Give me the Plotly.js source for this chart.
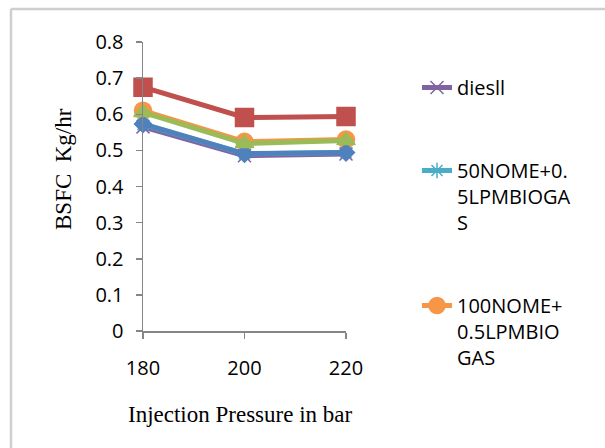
<!DOCTYPE html>
<html>
<head>
<meta charset="utf-8">
<script src="https://cdn.plot.ly/plotly-3.0.1.min.js"></script>
<style>html,body{margin:0;padding:0;background:#fff;}#chart{width:605px;height:448px;}</style>
</head>
<body>
<div id="chart"></div>
<script>
const pressure = [180, 200, 220];
const seriesA = [0.573, 0.491, 0.494];
const seriesB = [0.675, 0.591, 0.594];
const seriesC = [0.605, 0.519, 0.527];
const diesll = [0.565, 0.485, 0.490];
const nome50 = [0.572, 0.490, 0.494];
const nome100 = [0.610, 0.524, 0.530];
const names = ["diesll", "50NOME+0.<br>5LPMBIOGA<br>S", "100NOME+<br>0.5LPMBIO<br>GAS"];
const yTicks = [0, 0.1, 0.2, 0.3, 0.4, 0.5, 0.6, 0.7, 0.8];
const yTickText = ["0", "0.1", "0.2", "0.3", "0.4", "0.5", "0.6", "0.7", "0.8"];

function tr(y, name, color, symbol, size, show, group) {
  return {
    x: pressure, y: y, name: name, type: 'scatter', mode: 'lines+markers',
    line: {color: color, width: 5},
    marker: {color: color, symbol: symbol, size: size, line: {color: color, width: 1.5}},
    showlegend: show, legendgroup: group, cliponaxis: false
  };
}
const data = [
  tr(diesll, names[0], '#8064A2', 'x-thin-open', 13, true, 'g1'),
  tr(nome50, names[1], '#4BACC6', 'asterisk-open', 13, true, 'g2'),
  tr(nome100, names[2], '#F79646', 'circle', 17, true, 'g3'),
  tr(seriesA, 'Series 1', '#4F81BD', 'diamond', 13, false, 'g4'),
  tr(seriesB, 'Series 2', '#C0504D', 'square', 18, false, 'g5'),
  tr(seriesC, 'Series 3', '#9BBB59', 'triangle-up', 16, false, 'g6')
];

const L = 143, T = 42, W = 203, H = 289;
const px = v => (v - L) / W;
const py = v => (T + H - v) / H;

const layout = {
  width: 605, height: 448,
  margin: {l: L, r: 605 - L - W, t: T, b: 448 - T - H},
  paper_bgcolor: '#fff', plot_bgcolor: '#fff',
  font: {family: 'Open Sans, Liberation Sans, sans-serif', color: '#000'},
  xaxis: {
    range: [180, 220], tickvals: pressure, ticktext: pressure.map(String),
    showgrid: false, zeroline: false, showline: true, linecolor: '#868686', linewidth: 1.5,
    ticks: 'outside', ticklen: 6, tickcolor: '#868686', tickwidth: 1.5,
    tickfont: {size: 20, family: 'Open Sans, sans-serif', color: '#000'},
    ticklabelstandoff: 12
  },
  yaxis: {
    range: [0, 0.8], tickvals: yTicks, ticktext: yTickText,
    showgrid: false, zeroline: false, showline: true, linecolor: '#868686', linewidth: 1.5,
    ticks: 'outside', ticklen: 6, tickcolor: '#868686', tickwidth: 1.5,
    tickfont: {size: 20, family: 'Open Sans, sans-serif', color: '#000'},
    ticklabelstandoff: 8
  },
  legend: {
    x: px(417), y: py(68), xanchor: 'left', yanchor: 'top', maxheight: 420,
    font: {size: 20, family: 'Open Sans, sans-serif', color: '#000'},
    valign: 'top', tracegroupgap: 54, traceorder: 'grouped', bgcolor: 'rgba(0,0,0,0)'
  },
  annotations: [
    {text: 'Injection Pressure in bar', xref: 'paper', yref: 'paper', x: px(240), y: py(414),
     xanchor: 'center', yanchor: 'middle', showarrow: false,
     font: {size: 23, family: 'Liberation Serif, DejaVu Serif, serif', color: '#000'}},
    {text: 'BSFC  Kg/hr', xref: 'paper', yref: 'paper', x: px(63), y: py(169), textangle: -90,
     xanchor: 'center', yanchor: 'middle', showarrow: false,
     font: {size: 23, family: 'Liberation Serif, DejaVu Serif, serif', color: '#000'}}
  ],
  shapes: [
    {type: 'line', xref: 'paper', yref: 'paper', x0: px(11), x1: px(610), y0: py(9), y1: py(9),
     line: {color: '#cfcfcf', width: 2.5}},
    {type: 'line', xref: 'paper', yref: 'paper', x0: px(11), x1: px(11), y0: py(9), y1: py(460),
     line: {color: '#cfcfcf', width: 2.5}}
  ]
};
Plotly.newPlot('chart', data, layout, {displayModeBar: false, staticPlot: true});
</script>
</body>
</html>
